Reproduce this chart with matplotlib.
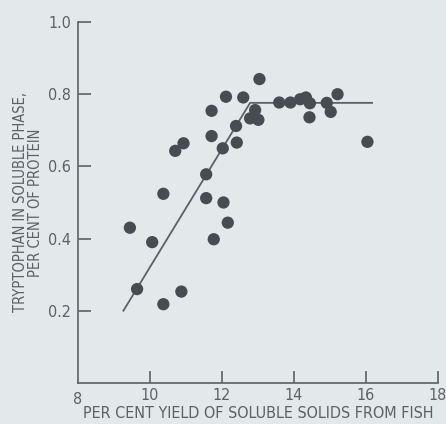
from matplotlib import pyplot as plt
from matplotlib import font_manager
import numpy as np

# yield of soluble solids (%) vs tryptophan in soluble phase (% of protein)
yield_pct = [9.44, 9.64, 10.06, 10.37, 10.87, 10.37, 11.56, 12.04, 12.16, 11.77,
             10.70, 10.93, 11.71, 12.11, 11.71, 11.56, 12.02, 12.39, 12.41,
             13.04, 12.59, 12.92, 12.78, 13.01,
             13.59, 13.90, 14.17, 14.33, 14.44, 14.43, 14.91, 15.02, 15.21, 16.04]
tryptophan = [0.430, 0.260, 0.390, 0.218, 0.253, 0.524, 0.512, 0.500, 0.444, 0.398,
              0.643, 0.664, 0.754, 0.793, 0.684, 0.578, 0.650, 0.712, 0.666,
              0.842, 0.791, 0.756, 0.733, 0.729,
              0.777, 0.777, 0.786, 0.791, 0.775, 0.736, 0.776, 0.751, 0.800, 0.668]

# fitted broken line
fit_x = [9.26, 12.78, 16.17]
fit_y = [0.20, 0.776, 0.776]

x_ticks = [10, 12, 14, 16, 18]
y_ticks = [0.2, 0.4, 0.6, 0.8, 1.0]

bg = "#e3e8eb"
ink = "#5c6166"
dot = "#474c52"

names = {f.name for f in font_manager.fontManager.ttflist}
fam = "Liberation Sans Narrow" if "Liberation Sans Narrow" in names else "DejaVu Sans"
plt.rcParams["font.family"] = [fam, "DejaVu Sans"]
plt.rcParams["font.stretch"] = "condensed"

fig = plt.figure(figsize=(4.46, 4.24), dpi=100, facecolor=bg)
ax = fig.add_axes([0.175, 0.097, 0.807, 0.851], facecolor=bg)

ax.plot(fit_x, fit_y, color=ink, lw=1.3, zorder=2)
ax.scatter(yield_pct, tryptophan, s=78, color=dot, edgecolors="none", zorder=3)

ax.set_xlim(8, 18)
ax.set_ylim(0, 1.0)
ax.set_xticks(x_ticks)
ax.set_yticks(y_ticks)
ax.set_yticklabels(["0.2", "0.4", "0.6", "0.8", "1.0"])

for s in ["top", "right"]:
    ax.spines[s].set_visible(False)
for s in ["left", "bottom"]:
    ax.spines[s].set_color(ink)
    ax.spines[s].set_linewidth(1.2)

ax.tick_params(direction="in", length=9, width=1.2, color=ink,
               labelcolor=ink, labelsize=11.5)
ax.tick_params(axis="y", pad=5)
ax.tick_params(axis="x", pad=4)

# the "8" at the origin has no tick mark
ax.text(8, -0.025, "8", ha="center", va="top", color=ink, fontsize=11.5)

ax.set_xlabel("PER CENT YIELD OF SOLUBLE SOLIDS FROM FISH",
              color=ink, fontsize=11.5, labelpad=2)
ax.set_ylabel("TRYPTOPHAN IN SOLUBLE PHASE,\nPER CENT OF PROTEIN",
              color=ink, fontsize=10.5, linespacing=0.95, labelpad=4)

plt.savefig("out.png", dpi=100, facecolor=bg)
